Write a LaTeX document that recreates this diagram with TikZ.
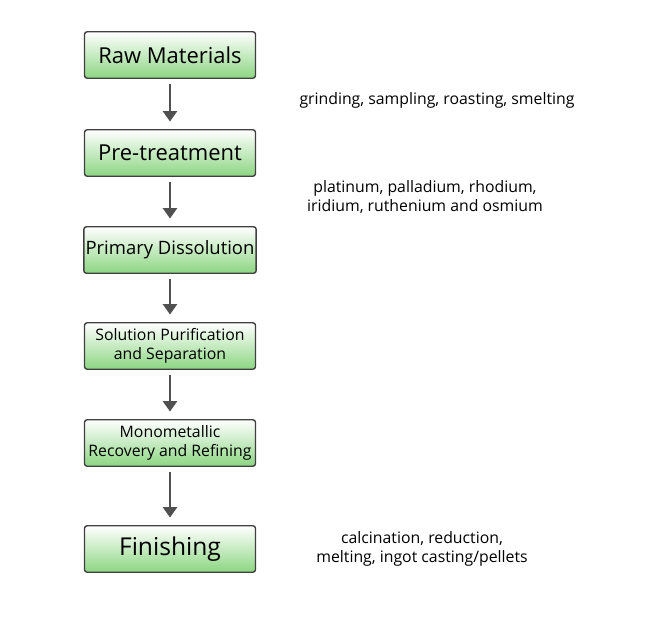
\documentclass[tikz,border=0pt]{standalone}
\usepackage{fontspec}
\setmainfont{Open Sans}
\usetikzlibrary{arrows.meta}
\definecolor{boxgreen}{RGB}{140,214,130}
\definecolor{arrowgray}{RGB}{80,80,80}
\begin{document}
\begin{tikzpicture}[x=0.02cm,y=-0.02cm]
    \tikzset{stage/.style = {draw=black!75, line width=0.8pt, rounded corners=1.5pt,
      top color=white, bottom color=boxgreen, minimum width=3.42cm, minimum height=0.93cm,
      align=center, inner sep=1pt}}
    \tikzset{edge/.style = {-{Triangle[width=8pt,length=6pt]}, line width=1.6pt, draw=arrowgray}}
    \tikzset{note/.style = {align=center, font=\fontsize{9}{11}\selectfont}}
    \useasboundingbox (0,0) rectangle (650,622);

    \node[stage, font=\fontsize{12.5}{14}\selectfont] (raw) at (170,55) {Raw Materials};
    \node[stage, font=\fontsize{12.5}{14}\selectfont] (pre) at (170,153) {Pre-treatment};
    \node[stage, font=\fontsize{10.5}{12}\selectfont] (dis) at (170,250) {Primary Dissolution};
    \node[stage, font=\fontsize{9}{10.5}\selectfont] (pur) at (170,346) {Solution Purification\\and Separation};
    \node[stage, font=\fontsize{9}{10.5}\selectfont] (mon) at (170,443) {Monometallic\\Recovery and Refining};
    \node[stage, font=\fontsize{14}{16}\selectfont] (fin) at (170,549) {Finishing};

    \node[note] (n1) at (437,100) {grinding, sampling, roasting, smelting};
    \node[note] (n2) at (425,197) {platinum, palladium, rhodium,\\iridium, ruthenium and osmium};
    \node[note] (n3) at (422,549) {calcination, reduction,\\melting, ingot casting/pellets};

    \draw[edge] ([yshift=-0.1cm]raw.south) -- ([yshift=0.15cm]pre.north);
    \draw[edge] ([yshift=-0.1cm]pre.south) -- ([yshift=0.15cm]dis.north);
    \draw[edge] ([yshift=-0.1cm]dis.south) -- ([yshift=0.15cm]pur.north);
    \draw[edge] ([yshift=-0.1cm]pur.south) -- ([yshift=0.15cm]mon.north);
    \draw[edge] ([yshift=-0.1cm]mon.south) -- ([yshift=0.15cm]fin.north);

  \end{tikzpicture}
\end{document}
